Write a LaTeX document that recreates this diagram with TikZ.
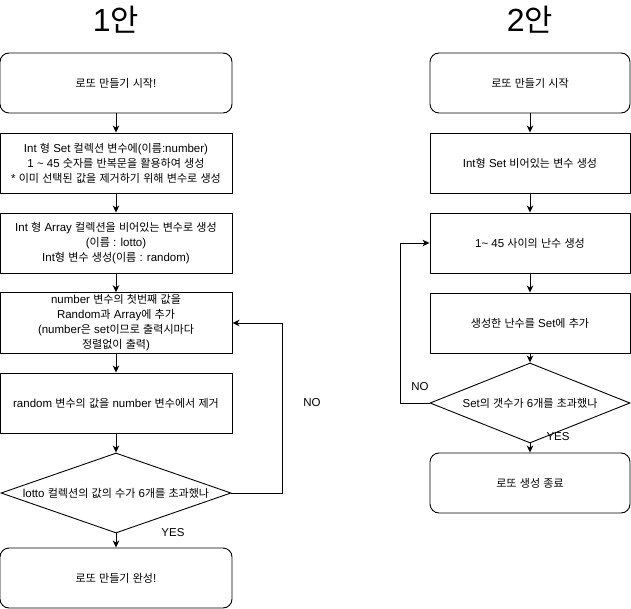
\documentclass[tikz,border=0pt]{standalone}
\usepackage{fontspec}
\setmainfont{Liberation Sans}
\newfontfamily\krfont[Scale=0.96]{Noto Sans CJK KR}
\usetikzlibrary{arrows.meta,positioning,shapes.geometric}

% Hangul in Noto Sans CJK KR, the rest in Liberation Sans
\XeTeXinterchartokenstate=1
\newXeTeXintercharclass\krclass
\newcount\hcode
\hcode="AC00
\loop
  \XeTeXcharclass\hcode=\krclass
  \advance\hcode by 1
\ifnum\hcode<"D7A4 \repeat
\XeTeXinterchartoks 0 \krclass = {\krfont}
\XeTeXinterchartoks 4095 \krclass = {\krfont}
\XeTeXinterchartoks \krclass 0 = {\rmfamily}
\XeTeXinterchartoks \krclass 4095 = {\rmfamily}

\tikzset{
  procbox/.style={draw,line width=0.9pt,minimum height=60pt,align=center,inner sep=2pt},
  termbox/.style={procbox,rounded corners=9pt},
  decision/.style={draw,diamond,line width=0.9pt,minimum height=80pt,inner sep=0pt},
  flow/.style={line width=0.9pt,-{Stealth[length=7pt,width=6.5pt,inset=2pt]}},
  title/.style={font=\fontsize{32}{36}\selectfont},
}

\begin{document}
\begin{tikzpicture}[x=1pt,y=-1pt,font=\fontsize{11.5}{15}\selectfont]
\useasboundingbox (0,0) rectangle (631,609);
% 1안
\node[title] (t1) at (116,20) {1안};
\node[termbox,minimum width=232pt] (a1) at (116,83) {로또 만들기 시작!};
\node[procbox,minimum width=232pt] (a2) at (116,163) {Int 형 Set 컬렉션 변수에(이름:number)\\1 \textasciitilde{} 45 숫자를 반복문을 활용하여 생성\\* 이미 선택된 값을 제거하기 위해 변수로 생성};
\node[procbox,minimum width=232pt] (a3) at (116,243) {Int 형 Array 컬렉션을 비어있는 변수로 생성\\(이름 : lotto)\\Int형 변수 생성(이름 : random)};
\node[procbox,minimum width=232pt] (a4) at (116,323) {number 변수의 첫번째 값을\\Random과 Array에 추가\\(number은 set이므로 출력시마다\\정렬없이 출력)};
\node[procbox,minimum width=232pt] (a5) at (116,403) {random 변수의 값을 number 변수에서 제거};
\node[decision,minimum width=230pt] (d1) at (116,493) {\makebox[0pt]{lotto 컬렉션의 값의 수가 6개를 초과했나}};
\node[termbox,minimum width=232pt] (a6) at (116,578) {로또 만들기 완성!};
\draw[flow] (a1) -- (a2);
\draw[flow] (a2) -- (a3);
\draw[flow] (a3) -- (a4);
\draw[flow] (a4) -- (a5);
\draw[flow] (a5) -- (d1);
\draw[flow] (d1) -- (a6);
\draw[flow] (d1.east) -- ++(51,0) |- (a4.east);
\node (no1) at (312,403) {NO};
\node (yes1) at (173,533) {YES};
% 2안
\node[title] (t2) at (530,20) {2안};
\node[termbox,minimum width=200pt] (b1) at (530,83) {로또 만들기 시작};
\node[procbox,minimum width=200pt] (b2) at (530,163) {Int형 Set 비어있는 변수 생성};
\node[procbox,minimum width=200pt] (b3) at (530,243) {1\textasciitilde{} 45 사이의 난수 생성};
\node[procbox,minimum width=200pt] (b4) at (530,323) {생성한 난수를 Set에 추가};
\node[decision,minimum width=200pt] (d2) at (530,403) {\makebox[0pt]{Set의 갯수가 6개를 초과했나}};
\node[termbox,minimum width=200pt] (b5) at (530,483) {로또 생성 종료};
\draw[flow] (b1) -- (b2);
\draw[flow] (b2) -- (b3);
\draw[flow] (b3) -- (b4);
\draw[flow] (b4) -- (d2);
\draw[flow] (d2) -- (b5);
\draw[flow] (d2.west) -- ++(-29,0) |- (b3.west);
\node (no2) at (420,387) {NO};
\node (yes2) at (558,437) {YES};
\end{tikzpicture}
\end{document}
